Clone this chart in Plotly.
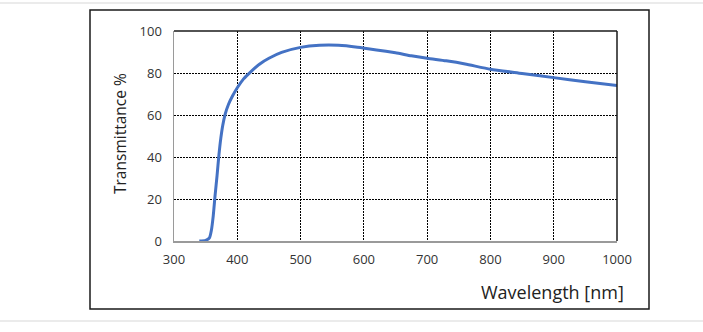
import plotly.graph_objects as go

wavelength = [340, 350, 356, 359, 362, 365, 368, 371, 374, 377, 381, 386, 392, 400, 410, 420, 435, 450, 470, 500, 530, 560, 590, 620, 650, 675, 700, 730, 760, 800, 850, 900, 950, 1000]
transmittance = [0, 0.3, 1.5, 5, 12, 22, 31, 41, 49, 55, 60.5, 65, 68.8, 73, 77.2, 80.2, 84.2, 87, 89.8, 92.2, 93.2, 93.2, 92.3, 91, 89.6, 88.2, 87, 85.8, 84.3, 81.8, 79.8, 77.8, 75.8, 74]

x_ticks = [300, 400, 500, 600, 700, 800, 900, 1000]
y_ticks = [0, 20, 40, 60, 80, 100]

fig = go.Figure()
fig.add_trace(go.Scatter(
    x=wavelength, y=transmittance, mode="lines",
    line=dict(color="#4472C4", width=3, shape="spline", smoothing=0.6),
    hoverinfo="skip", showlegend=False,
))

W, H = 703, 332
L, R, T, B = 174, 617, 31, 241
pw, ph = R - L, B - T

def px(x):
    return (x - L) / pw

def py(y):
    return (B - y) / ph

tickfont = dict(family="Open Sans, sans-serif", size=13, color="#333333")

fig.update_layout(
    width=W, height=H,
    margin=dict(l=L, r=W - R, t=T, b=H - B, autoexpand=False),
    paper_bgcolor="white", plot_bgcolor="white",
    xaxis=dict(
        range=[300, 1000], tickvals=x_ticks, ticktext=[str(v) for v in x_ticks],
        showgrid=True, gridcolor="#000000", gridwidth=1, griddash="2px,1px",
        showline=True, linecolor="#9a9a9a", linewidth=1.5,
        ticks="outside", ticklen=6, tickcolor="rgba(0,0,0,0)",
        tickfont=tickfont, zeroline=False, fixedrange=True,
    ),
    yaxis=dict(
        range=[0, 100], tickvals=y_ticks, ticktext=[str(v) for v in y_ticks],
        showgrid=True, gridcolor="#000000", gridwidth=1, griddash="2px,1px",
        showline=True, linecolor="#9a9a9a", linewidth=1.5,
        ticks="outside", ticklen=8, tickcolor="rgba(0,0,0,0)",
        tickfont=tickfont, zeroline=False, fixedrange=True,
    ),
    shapes=[
        # outer frame
        dict(type="rect", xref="paper", yref="paper", x0=px(90), x1=px(649), y0=py(309), y1=py(10),
             line=dict(color="#1a1a1a", width=1.5), fillcolor="rgba(0,0,0,0)", layer="below"),
        # top and right plot borders
        dict(type="line", xref="paper", yref="paper", x0=0, x1=1, y0=1, y1=1,
             line=dict(color="#1a1a1a", width=1.5)),
        dict(type="line", xref="paper", yref="paper", x0=1, x1=1, y0=0, y1=1,
             line=dict(color="#1a1a1a", width=1.5)),
        # page separators
        dict(type="line", xref="paper", yref="paper", x0=px(0), x1=px(W), y0=py(3), y1=py(3),
             line=dict(color="#e4e4e4", width=1.5)),
        dict(type="line", xref="paper", yref="paper", x0=px(0), x1=px(W), y0=py(321), y1=py(321),
             line=dict(color="#e4e4e4", width=1.5)),
    ],
    annotations=[
        dict(text="Wavelength [nm]", xref="paper", yref="paper", x=px(626), y=py(292),
             xanchor="right", yanchor="middle", showarrow=False,
             font=dict(family="Open Sans, sans-serif", size=18, color="#222222")),
        dict(text="Transmittance %", xref="paper", yref="paper", x=px(120), y=py(134),
             xanchor="center", yanchor="middle", textangle=-90, showarrow=False,
             font=dict(family="Open Sans, sans-serif", size=15.5, color="#222222")),
    ],
)

fig.write_html(
    "out.html",
    config={"displayModeBar": False, "staticPlot": True},
    post_script="document.body.style.margin='0';document.body.style.overflow='hidden';",
)
